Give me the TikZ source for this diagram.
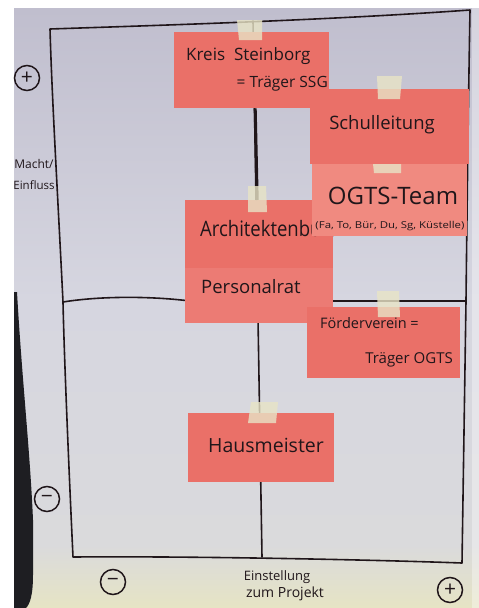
\documentclass[tikz,border=0pt]{standalone}
\usepackage{fontspec}
\setmainfont{Open Sans}
\usetikzlibrary{calc}
\definecolor{paperA}{RGB}{192,190,206}
\definecolor{paperB}{RGB}{214,214,224}
\definecolor{paperD}{RGB}{218,218,220}
\definecolor{paperC}{RGB}{230,228,196}
\definecolor{notered}{RGB}{234,112,104}
\definecolor{notelight}{RGB}{240,138,128}
\definecolor{tapecol}{RGB}{232,228,198}
\definecolor{ink}{RGB}{32,22,26}
\definecolor{edgedark}{RGB}{30,30,34}
\begin{document}
\begin{tikzpicture}[x=1pt,y=-1pt,
  note/.style 2 args={fill=notered, inner sep=0pt, anchor=north west, minimum width=#1pt, minimum height=#2pt},
  hand/.style={text=ink, inner sep=0pt},
  tape/.style={fill=tapecol, fill opacity=0.8, draw=none},
  frame/.style={draw=ink, line width=1.6pt, line join=round, line cap=round},
  sign/.style={draw=ink, line width=1.5pt, circle, inner sep=0pt, minimum size=25pt, text=ink, font=\fontsize{21}{21}\selectfont}
]
\useasboundingbox (0,0) rectangle (479,608);
% photo background
\fill[white] (0,0) rectangle (479,608);
\fill[top color=paperA, bottom color=paperB] (14,8) rectangle (479,300);
\fill[top color=paperB, bottom color=paperD] (14,300) rectangle (479,545);
\fill[top color=paperD, bottom color=paperC] (14,545) rectangle (479,608);
\fill[white, opacity=0.35] (472,8) rectangle (479,608);
\fill[edgedark] (14,292) -- (17,292) .. controls (22,380) and (30,450) .. (33,520) -- (33,575) .. controls (33,595) and (30,604) .. (26,608) -- (14,608) -- cycle;

% axes coordinates
\coordinate (tl) at (50,29);
\coordinate (tr) at (470,10);
\coordinate (bl) at (73,557);
\coordinate (br) at (462,563);
\coordinate (ml) at (63,302);
\coordinate (mr) at (466,301);
\coordinate (axtop) at (253,21);
\coordinate (axbot) at (262,557);

% frame
\draw[frame] (tl) .. controls (170,25) and (330,20) .. (tr)
  .. controls (468,120) and (466,300) .. (mr) -- (br)
  .. controls (380,560) and (200,556) .. (bl)
  .. controls (68,450) and (64,350) .. (ml)
  .. controls (58,200) and (52,100) .. (tl) -- cycle;
\draw[frame] (ml) .. controls (100,296) and (150,296) .. (190,301) -- (mr);
\draw[frame] (axtop) -- (axbot);

% notes
\node[note={155}{76}] (kreis) at (174,32) {};
\node[note={148}{68}] (archi) at (185,200) {};
\node[note={148}{55}, fill=notered!92!white] (personal) at (185,268) {};
\node[note={146}{69}] (haus) at (188,413) {};
\node[note={159}{75}] (schul) at (310,89) {};
\node[note={153}{71}] (foerder) at (307,307) {};

\draw[line width=3pt, ink] ($(kreis.south)+(3.5,0)$) -- ($(archi.north)+(-2,0)$);

% texts
\node[hand, font=\fontsize{17}{17}\selectfont, anchor=west] (t1) at (186,56) {Kreis\ \ Steinborg};
\node[hand, font=\fontsize{15.5}{16}\selectfont, anchor=east] (t2) at (328,84) {= Träger SSG};
\begin{scope}
\clip (archi.north west) rectangle (archi.south east);
\node[hand, font=\fontsize{18.5}{19}\selectfont, anchor=west] (t5) at (200,229) {\scalebox{1}[1.15]{Architektenbüro}};
\end{scope}
\node[note={155}{72}, fill=notelight] (ogts) at (312,164) {};
\node[hand, font=\fontsize{18.5}{18}\selectfont] (t3) at (382,125) {Schulleitung};
\node[hand, font=\fontsize{24}{24}\selectfont] (t4) at (393,196) {OGTS-Team};
\node[hand, font=\fontsize{9.5}{10}\selectfont] (t4b) at (390,226) {\scalebox{1.2}[1]{(Fa, To, Bür, Du, Sg, Küstelle)}};
\node[hand, font=\fontsize{18.5}{18}\selectfont, anchor=west] (t6) at (201,287) {Personalrat};
\node[hand, font=\fontsize{14.5}{15}\selectfont, anchor=west] (t7) at (320,323) {Förderverein =};
\node[hand, font=\fontsize{15}{15}\selectfont, anchor=east] (t8) at (453,360) {Träger OGTS};
\node[hand, font=\fontsize{19.5}{20}\selectfont] (t9) at (266,445) {Hausmeister};

% tapes
\fill[tape] (237,20) -- (262,20) -- (262,40) -- (239,40) -- cycle;
\fill[tape] (377,76) -- (402,76) -- (400,99) -- (378,99) -- cycle;
\fill[tape] (373,164) -- (401,164) -- (401,173) -- (374,173) -- cycle;
\fill[tape] (248,186) -- (266,186) -- (267,212) -- (248,212) -- cycle;
\fill[tape] (377,291) -- (399,291) -- (400,317) -- (378,317) -- cycle;
\fill[tape] (251,402) -- (278,402) -- (276,423) -- (248,423) -- cycle;

% axis labels
\node[sign] (plusL) at (27,78) {+};
\node[sign] (minusL) at (47,499) {−};
\node[sign] (minusB) at (113,582) {−};
\node[sign] (plusB) at (450,590) {+};
\node[hand, font=\fontsize{12}{12}\selectfont] (macht) at (34,164) {Macht/};
\node[hand, font=\fontsize{11.5}{12}\selectfont] (einfl) at (34,185) {Einfluss};
\node[hand, font=\fontsize{13}{13}\selectfont] (einst) at (277,577) {Einstellung};
\node[hand, font=\fontsize{14}{14}\selectfont] (zum) at (285,594) {zum Projekt};
\end{tikzpicture}
\end{document}
